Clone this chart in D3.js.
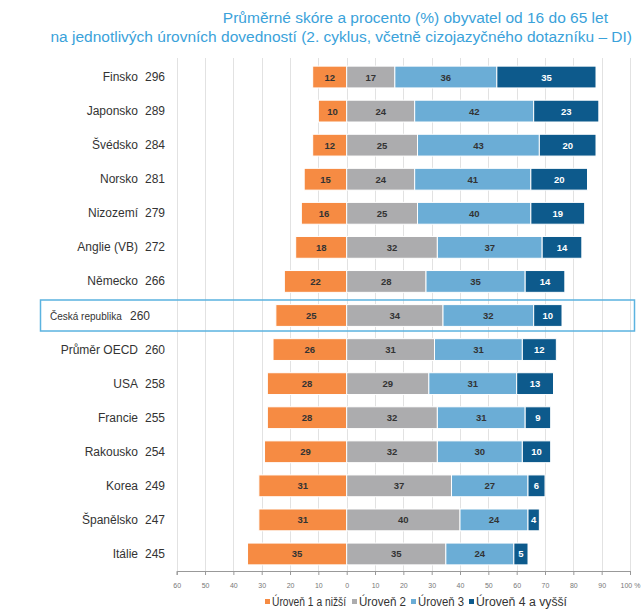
<!DOCTYPE html>
<html lang="cs">
<head>
<meta charset="UTF-8">
<title>Úrovně dovedností</title>
<style>
    body { margin: 0; background: #fff; font-family: 'Liberation Sans', Arial, sans-serif; }
    svg { display: block; }
</style>
</head>
<body>
<svg id="chart" width="642" height="611"></svg>
<script src="https://d3js.org/d3.v7.min.js"></script>
<script>
// data
const countries = ["Finsko", "Japonsko", "Švédsko", "Norsko", "Nizozemí", "Anglie (VB)", "Německo",
    "Česká republika", "Průměr OECD", "USA", "Francie", "Rakousko", "Korea", "Španělsko", "Itálie"];
const scores = [296, 289, 284, 281, 279, 272, 266, 260, 260, 258, 255, 254, 249, 247, 245];
const level1 = [12, 10, 12, 15, 16, 18, 22, 25, 26, 28, 28, 29, 31, 31, 35];
const level2 = [17, 24, 25, 24, 25, 32, 28, 34, 31, 29, 32, 32, 37, 40, 35];
const level3 = [36, 42, 43, 41, 40, 37, 35, 32, 31, 31, 31, 30, 27, 24, 24];
const level4 = [35, 23, 20, 20, 19, 14, 14, 10, 12, 13, 9, 10, 6, 4, 5];
const levelNames = ["Úroveň 1 a nižší", "Úroveň 2", "Úroveň 3", "Úroveň 4 a vyšší"];
const levelColors = ["#f68b43", "#acacae", "#6badd6", "#0d5a8c"];
const tickValues = [-60, -50, -40, -30, -20, -10, 0, 10, 20, 30, 40, 50, 60, 70, 80, 90, 100];
const highlight = "Česká republika";

const svg = d3.select("#chart");

const x = d3.scaleLinear().domain([-60, 100]).range([176.7, 630]);
const y = d3.scaleBand().domain(countries).range([60, 571]).paddingInner(0.36).paddingOuter(0.18);

// title
const title = svg.append("g").attr("fill", "#3aa2da").attr("font-size", 15.5);
title.append("text").attr("x", 608).attr("y", 23).attr("text-anchor", "end")
    .text("Průměrné skóre a procento (%) obyvatel od 16 do 65 let");
title.append("text").attr("x", 632).attr("y", 42).attr("text-anchor", "end")
    .text("na jednotlivých úrovních dovedností (2. cyklus, včetně cizojazyčného dotazníku – DI)");

// grid
svg.append("g").selectAll("line").data(tickValues).join("line")
    .attr("x1", d => Math.round(x(d)) + 0.5).attr("x2", d => Math.round(x(d)) + 0.5)
    .attr("y1", 58).attr("y2", 571)
    .attr("stroke", "#e2e2e2").attr("stroke-width", 1);

// highlight box
svg.append("rect")
    .attr("x", 40.5).attr("y", y(highlight) + y.bandwidth() / 2 - 15.5)
    .attr("width", 594).attr("height", 31)
    .attr("fill", "none").attr("stroke", "#5bb3e0").attr("stroke-width", 1.5);

// stacked segments: level 1 to the left of zero, the rest to the right
const segs = countries.flatMap((c, i) => {
    const vals = [level1[i], level2[i], level3[i], level4[i]];
    const out = [{ c, k: 0, v: vals[0], x0: -vals[0], x1: 0 }];
    let acc = 0;
    for (let k = 1; k < 4; k++) {
        out.push({ c, k, v: vals[k], x0: acc, x1: acc + vals[k] });
        acc += vals[k];
    }
    return out;
});

const bars = svg.append("g");
bars.selectAll("rect").data(segs).join("rect")
    .attr("x", d => x(d.x0))
    .attr("y", d => y(d.c))
    .attr("width", d => x(d.x1) - x(d.x0))
    .attr("height", y.bandwidth())
    .attr("fill", d => levelColors[d.k])
    .attr("stroke", "#fff").attr("stroke-width", 1);

bars.selectAll("text").data(segs).join("text")
    .attr("x", d => (x(d.x0) + x(d.x1)) / 2)
    .attr("y", d => y(d.c) + y.bandwidth() / 2 + 3.5)
    .attr("text-anchor", "middle")
    .attr("font-size", 9.5).attr("font-weight", "bold")
    .attr("fill", d => d.k === 3 ? "#fff" : "#333")
    .text(d => d.v);

// country names and scores
const labels = svg.append("g").attr("font-size", 12).attr("fill", "#333");
labels.selectAll("text.name").data(countries).join("text").attr("class", "name")
    .attr("x", d => d === highlight ? 50 : 138)
    .attr("text-anchor", d => d === highlight ? "start" : "end")
    .attr("font-size", d => d === highlight ? 10 : null)
    .attr("y", d => y(d) + y.bandwidth() / 2 + 4)
    .text(d => d);
labels.selectAll("text.score").data(countries).join("text").attr("class", "score")
    .attr("x", d => d === highlight ? 130 : 145)
    .attr("y", d => y(d) + y.bandwidth() / 2 + 4)
    .text((d, i) => scores[i]);

// axis
const axis = d3.axisBottom(x).tickValues(tickValues).tickSize(4)
    .tickFormat(d => d === 100 ? "100 %" : Math.abs(d));
const ax = svg.append("g").attr("transform", "translate(0,571)").call(axis);
ax.select(".domain").attr("stroke", "#999");
ax.selectAll(".tick line").attr("stroke", "#999");
ax.selectAll(".tick text").attr("fill", "#777").attr("font-size", 7).attr("dy", "1.4em")
    .attr("font-family", "'Liberation Sans', Arial, sans-serif");

// legend
const legendX = [265, 352, 411, 469];
const legendW = [74, 47, 46, 91];
const legend = svg.append("g").attr("font-size", 12).attr("fill", "#333");
levelNames.forEach((n, k) => {
    legend.append("rect").attr("x", legendX[k]).attr("y", 599).attr("width", 5).attr("height", 5)
        .attr("fill", levelColors[k]);
    legend.append("text").attr("x", legendX[k] + 7).attr("y", 606)
        .attr("textLength", legendW[k]).attr("lengthAdjust", "spacingAndGlyphs")
        .text(n);
});
</script>
</body>
</html>
